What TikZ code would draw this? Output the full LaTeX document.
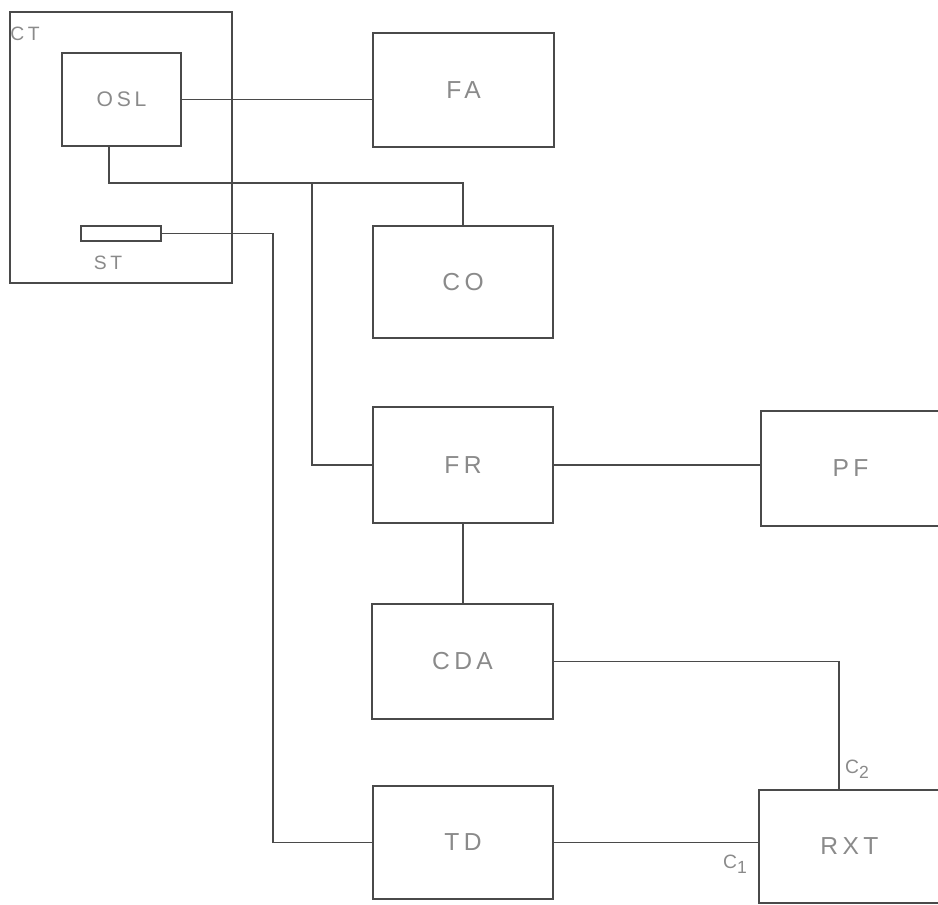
\documentclass[tikz,border=0pt]{standalone}
\usepackage{fontspec}
\setmainfont{Liberation Sans}[LetterSpace=18]
\definecolor{ink}{HTML}{4A4A4A}
\definecolor{pencil}{HTML}{8A8A8A}
\newcommand{\lowidx}[1]{\raisebox{-0.45ex}{\fontsize{10}{12}\selectfont #1}}
\tikzset{
	blk/.style={draw=ink, line width=0.9pt, rectangle, inner sep=0pt, text=pencil, font=\fontsize{14}{16}\selectfont},
	tag/.style={text=pencil, inner sep=1pt, font=\fontsize{11}{13}\selectfont},
	wire/.style={draw=ink, line width=0.8pt}
}
\begin{document}
\begin{tikzpicture}[x=0.02cm, y=-0.02cm]
		\clip (0,0) rectangle (938,905);

		% control unit with its two parts
		\node[blk, minimum width=4.44cm, minimum height=5.42cm] (ct) at (121,147.5) {};
		\node[tag] (ctlbl) at (25,34) {CT};
		\node[blk, minimum width=2.38cm, minimum height=1.86cm, font=\fontsize{12}{14}\selectfont] (osl) at (121.5,99.5) {OSL};
		\node[blk, minimum width=1.6cm, minimum height=0.3cm] (st) at (121,233.5) {};
		\node[tag] (stlbl) at (108,263) {ST};

		\node[blk, minimum width=3.62cm, minimum height=2.28cm] (fa) at (463.5,90) {FA};
		\node[blk, minimum width=3.6cm, minimum height=2.24cm] (co) at (463,282) {CO};
		\node[blk, minimum width=3.6cm, minimum height=2.32cm] (fr) at (463,465) {FR};
		\node[blk, minimum width=3.58cm, minimum height=2.3cm] (pf) at (850.5,468.5) {PF};
		\node[blk, minimum width=3.62cm, minimum height=2.3cm] (cda) at (462.5,661.5) {CDA};
		\node[blk, minimum width=3.6cm, minimum height=2.26cm] (td) at (463,842.5) {TD};
		\node[blk, minimum width=3.62cm, minimum height=2.26cm] (rxt) at (849.5,846.5) {RXT};

		\coordinate (j1) at (109,183);
		\coordinate (j2) at (312,183);
		\coordinate (j3) at (273,842.5);
		\coordinate (c2) at (839,790);

		\draw[wire] (osl.east) -- (osl.east -| fa.west);
		\draw[wire] (osl.south -| j1) -- (j1) -| (co.north);
		\draw[wire] (j2) |- (fr.west);
		\draw[wire] (st.east) -| (j3) -- (td.west);
		\draw[wire] (fr.east) -- (fr.east -| pf.west);
		\draw[wire] (fr.south) -- (fr.south |- cda.north);
		\draw[wire] (cda.east) -| (c2);
		\draw[wire] (td.east) -- (td.east -| rxt.west);

		\node[tag] (c1lbl) at (735,864) {C\lowidx{1}};
		\node[tag] (c2lbl) at (857,769) {C\lowidx{2}};

	\end{tikzpicture}
\end{document}
